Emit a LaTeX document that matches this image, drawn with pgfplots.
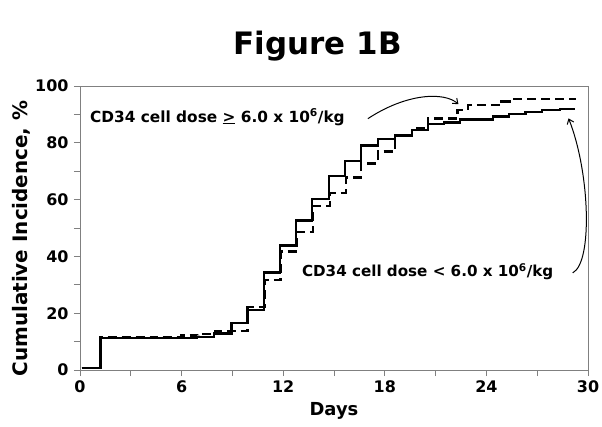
\documentclass[border=0pt]{standalone}
\usepackage{fontspec}
\setmainfont{DejaVu Sans}
\usepackage{pgfplots}
\pgfplotsset{compat=1.18}
\usetikzlibrary{arrows.meta,calc}

\begin{document}
\begin{tikzpicture}
\useasboundingbox (-80bp,-57bp) rectangle (522bp,370bp);
\begin{axis}[
    name=ax,
    at={(0,0)}, anchor=south west,
    scale only axis, width=508bp, height=284bp,
    xmin=0, xmax=30, ymin=0, ymax=100,
    xtick={0,6,...,30}, minor xtick={3,9,...,27},
    ytick={0,20,...,100}, minor ytick={10,30,...,90},
    xtick pos=bottom, ytick pos=left,
    tick align=outside, major tick length=6bp, minor tick length=6bp,
    tick style={gray, line width=0.8pt},
    axis line style={gray, line width=0.9pt},
    xticklabel style={font=\bfseries\fontsize{16}{18}\selectfont, yshift=-1bp},
    yticklabel style={font=\bfseries\fontsize{16}{18}\selectfont, xshift=-2bp},
    /pgf/number format/assume math mode=true,
    xlabel={\bfseries Days}, ylabel={\bfseries Cumulative Incidence, \%},
    xlabel style={font=\bfseries\fontsize{18}{20}\selectfont, yshift=-3bp},
    ylabel style={font=\bfseries\fontsize{20}{22}\selectfont, at={(ticklabel cs:0.463)}, yshift=-2bp},
    clip=false,
]
% CD34 dose < 6.0 x 10^6/kg (solid)
\addplot[const plot, black, line width=2.4pt] coordinates {
(0.1,0.8)(1.2,11.2)(6.9,11.7)(7.9,12.9)(8.95,16.5)(9.9,21.1)(10.85,34.3)
(11.8,43.8)(12.75,52.6)(13.7,60.2)(14.7,68.4)(15.65,73.5)(16.6,79.0)
(17.6,81.4)(18.6,82.6)(19.6,84.5)(20.55,86.6)(21.5,87.2)(22.45,88.2)
(24.4,89.2)(25.35,90.1)(26.3,90.8)(27.3,91.6)(28.35,92.0)(29.25,92.0)
};
% CD34 dose >= 6.0 x 10^6/kg (dashed)
\addplot[const plot, black, line width=2.4pt, dash pattern=on 9bp off 5bp] coordinates {
(0.1,0.8)(1.2,11.4)(4.5,11.7)(6.0,12.1)(7.0,12.7)(8.0,13.8)(9.9,22.2)
(10.9,31.7)(11.85,41.7)(12.8,48.6)(13.75,57.7)(14.75,62.4)(15.7,67.8)
(16.6,72.7)(17.6,76.9)(18.6,82.7)(19.6,85.1)(20.55,88.6)(22.3,91.5)
(22.9,93.3)(24.9,94.5)(25.5,95.4)(29.3,95.4)
};
\node[anchor=west, inner sep=0pt, font=\bfseries\fontsize{15.4}{17}\selectfont] at (axis cs:0.59,89)
  {CD34 cell dose \underline{>} 6.0 x 10\textsuperscript{6}/kg};
\node[anchor=west, inner sep=0pt, font=\bfseries\fontsize{15.2}{17}\selectfont] at (axis cs:13.1,34.5)
  {CD34 cell dose < 6.0 x 10\textsuperscript{6}/kg};
\draw[-{Straight Barb[length=4.5bp,width=7bp]}, line width=1pt]
  (axis cs:17.0,88.5) .. controls (axis cs:19.3,97.5) and (axis cs:21.5,98) .. (axis cs:22.35,93.6);
\draw[-{Straight Barb[length=4.5bp,width=7bp]}, line width=1pt]
  (axis cs:29.1,34.2) .. controls (axis cs:30.3,38) and (axis cs:30.1,70) .. (axis cs:28.85,88.6);
\node[font=\bfseries\fontsize{31}{34}\selectfont] at ($(rel axis cs:0.468,1)+(0,40bp)$) {Figure 1B};
\end{axis}
\end{tikzpicture}
\end{document}
